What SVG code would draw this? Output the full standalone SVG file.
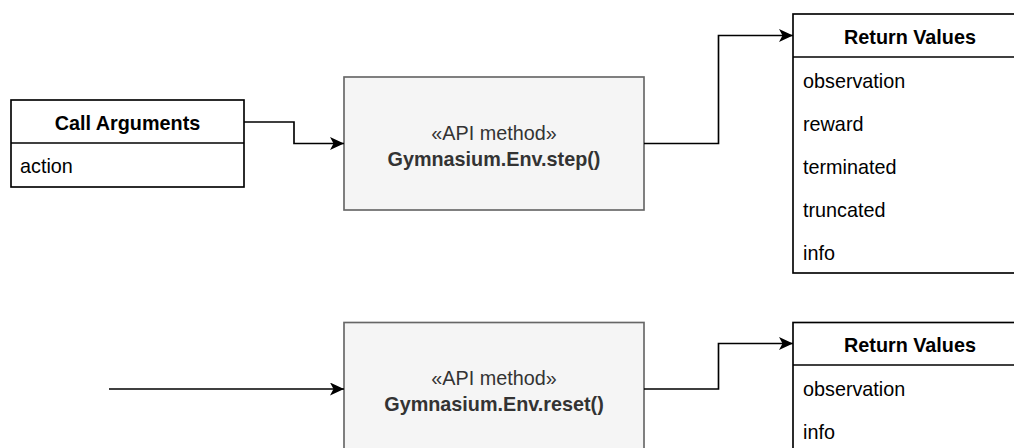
<svg xmlns="http://www.w3.org/2000/svg" width="1014" height="448" viewBox="0 0 1014 448">
  <style>
    .tbl { fill: #ffffff; stroke: #000000; stroke-width: 1.65; }
    .sep { stroke: #000000; stroke-width: 1.65; }
    .api { fill: #f5f5f5; stroke: #666666; stroke-width: 1.65; }
    .hdr { font-family: "Liberation Sans", Arial, sans-serif; font-size: 19.8px; font-weight: bold; fill: #000000; text-anchor: middle; dominant-baseline: central; }
    .row { font-family: "Liberation Sans", Arial, sans-serif; font-size: 19.8px; fill: #000000; dominant-baseline: central; }
    .lbl { font-family: "Liberation Sans", Arial, sans-serif; font-size: 19.8px; fill: #333333; text-anchor: middle; dominant-baseline: central; }
    .edge { fill: none; stroke: #000000; stroke-width: 1.65; marker-end: url(#arrow); }
  </style>
  <defs>
    <marker id="arrow" markerUnits="userSpaceOnUse" markerWidth="15" markerHeight="13" refX="14" refY="6.5" orient="auto">
      <path d="M0,0 L14,6.5 L0,13 L3.5,6.5 Z" fill="#000000"/>
    </marker>
  </defs>

  <!-- input parameters of step() -->
  <g id="call-arguments">
    <rect class="tbl" x="11" y="100" width="233" height="87"/>
    <line class="sep" x1="11" y1="143" x2="244" y2="143"/>
    <text class="hdr" x="127.5" y="122.5">Call Arguments</text>
    <text class="row" x="20" y="166">action</text>
  </g>

  <!-- step() method -->
  <g id="step-method">
    <rect class="api" x="344" y="77" width="300" height="133"/>
    <text class="lbl" x="494" y="132.5">«API method»</text>
    <text class="lbl" x="494" y="158.5" font-weight="bold">Gymnasium.Env.step()</text>
  </g>

  <!-- outputs of step() -->
  <g id="step-returns">
    <rect class="tbl" x="793" y="14" width="234" height="259"/>
    <line class="sep" x1="793" y1="57" x2="1027" y2="57"/>
    <text class="hdr" x="910" y="36.5">Return Values</text>
    <text class="row" x="803" y="80.5">observation</text>
    <text class="row" x="803" y="123.5">reward</text>
    <text class="row" x="803" y="166.5">terminated</text>
    <text class="row" x="803" y="209.5">truncated</text>
    <text class="row" x="803" y="252.5">info</text>
  </g>

  <!-- reset() method -->
  <g id="reset-method">
    <rect class="api" x="344" y="322.5" width="300" height="133"/>
    <text class="lbl" x="494" y="378">«API method»</text>
    <text class="lbl" x="494" y="404" font-weight="bold">Gymnasium.Env.reset()</text>
  </g>

  <!-- outputs of reset() -->
  <g id="reset-returns">
    <rect class="tbl" x="793" y="322.5" width="234" height="130"/>
    <line class="sep" x1="793" y1="365" x2="1027" y2="365"/>
    <text class="hdr" x="910" y="344.5">Return Values</text>
    <text class="row" x="803" y="389">observation</text>
    <text class="row" x="803" y="432">info</text>
  </g>

  <g id="connectors">
    <path class="edge" d="M244,122 H294 V143.5 H344"/>
    <path class="edge" d="M644,143.5 H718.5 V35.5 H793"/>
    <path class="edge" d="M109,389 H344"/>
    <path class="edge" d="M644,389 H718.5 V343.5 H793"/>
  </g>
</svg>
